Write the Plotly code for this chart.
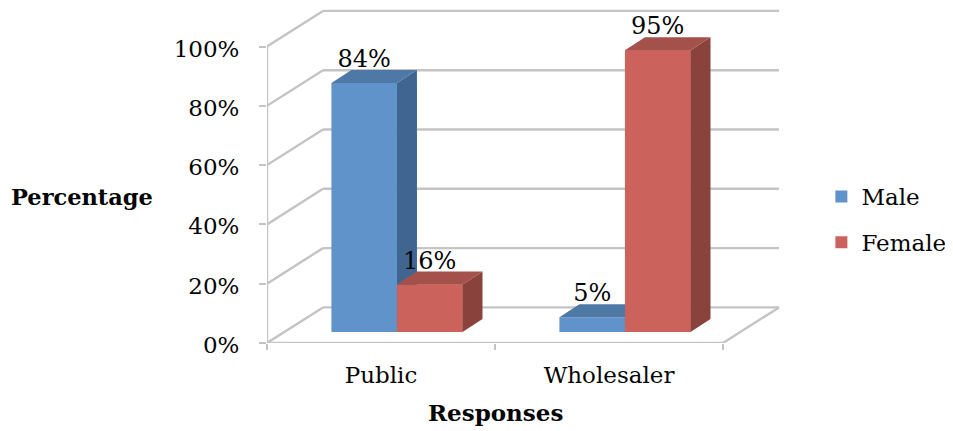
import plotly.graph_objects as go

categories = ["Public", "Wholesaler"]
series_names = ["Male", "Female"]
male = [84, 5]
female = [16, 95]
y_ticks = [0, 20, 40, 60, 80, 100]
y_labels = ["0%", "20%", "40%", "60%", "80%", "100%"]

FONT = "DejaVu Serif"
TXT = "#050505"
GRID = "#C4C4C4"
C = {
    "Male": ("#5F93C9", "#4E78A6", "#3F6590"),
    "Female": ("#CB635C", "#A5514B", "#8A423D"),
}

cx = [0.57, 1.57]
w = 0.2875
base = 3.7
bdx, bdy = 0.0877, 4.4
wdx, wdy = 0.2456, 12.0
label_drop = 1.0

# The page has an 8 px body margin: the figure is laid out inside it.
PLOT_H = 335
PLOT_W = 523

fig = go.Figure()

shapes = []
def ln(x0, y0, x1, y1):
    shapes.append(dict(type="line", xref="x", yref="y", x0=x0, y0=y0, x1=x1, y1=y1,
                       layer="below", line=dict(color=GRID, width=2.4)))
for v in y_ticks:
    ln(0, v, wdx, v + wdy)
    ln(wdx, v + wdy, 2 + wdx, v + wdy)
ln(0, 0, 0, 100)
ln(0, 0, 2, 0)
ln(2, 0, 2 + wdx, wdy)


def poly(xs, ys, color):
    fig.add_trace(go.Scatter(x=xs, y=ys, mode="lines", fill="toself", fillcolor=color,
                             line=dict(width=0), showlegend=False, hoverinfo="skip"))


fig.add_trace(go.Bar(name="Male", legendgroup="m", x=[c - w / 2 for c in cx], y=male, base=base, width=w,
                     marker=dict(color=C["Male"][0], line=dict(width=0))))
fig.add_trace(go.Bar(name="Female", legendgroup="f", x=[c + w / 2 for c in cx], y=female, base=base, width=w,
                     marker=dict(color=C["Female"][0], line=dict(width=0))))


def faces(xl, v, name):
    front, top, side = C[name]
    xr = xl + w
    t = base + v
    poly([xr, xr + bdx, xr + bdx, xr, xr], [base, base + bdy, t + bdy, t, base], side)
    poly([xl, xr, xr + bdx, xl + bdx, xl], [t, t, t + bdy, t + bdy, t], top)


for c, v in zip(cx, male):
    faces(c - w, v, "Male")
for c, v in zip(cx, female):
    xl = c
    t = base + v
    poly([xl, xl + w, xl + w, xl, xl], [base, base, t, t, base], C["Female"][0])
    faces(xl, v, "Female")

lx = [c - w / 2 for c in cx] + [c + w / 2 for c in cx]
vals = male + female
fig.add_trace(go.Scatter(x=lx, y=[base + v + bdy - label_drop for v in vals], mode="text",
                         text=[f"{v}%" for v in vals], textposition="top center",
                         textfont=dict(family=FONT, size=24, color=TXT), cliponaxis=False,
                         showlegend=False, hoverinfo="skip"))

fig.update_layout(
    width=945, height=423, autosize=False,
    margin=dict(l=259, r=163, t=0, b=88),
    paper_bgcolor="white", plot_bgcolor="white",
    shapes=shapes, barmode="overlay",
    font=dict(family=FONT, size=23, color=TXT),
    legend=dict(x=1.06, xanchor="left", y=(343 - 175) / PLOT_H, yanchor="top",
                traceorder="grouped", tracegroupgap=13, itemwidth=30,
                font=dict(family=FONT, size=23, color=TXT), bgcolor="rgba(0,0,0,0)"),
    xaxis=dict(range=[0, PLOT_W / 228], tickmode="array", tickvals=[0.5, 1.5], ticktext=categories,
               showgrid=False, zeroline=False, showline=False, ticks="", ticklabelstandoff=16,
               minor=dict(tickmode="array", tickvals=[0, 1, 2], ticks="outside", ticklen=6,
                          tickwidth=2, tickcolor=GRID, showgrid=False)),
    yaxis=dict(range=[0, PLOT_H / 2.965], tickmode="array", tickvals=y_ticks, ticktext=y_labels,
               showgrid=False, zeroline=False, showline=False, ticks="outside", ticklen=7,
               tickwidth=2, tickcolor=GRID, ticklabelstandoff=15, ticklabelshift=2),
    annotations=[
        dict(text="<b>Percentage</b>", xref="paper", yref="paper", x=(82 - 267) / PLOT_W,
             y=(343 - 197) / PLOT_H, xanchor="center", yanchor="middle", showarrow=False,
             font=dict(family=FONT, size=22.5, color=TXT)),
        dict(text="<b>Responses</b>", xref="x", yref="paper", x=1, y=(343 - 412) / PLOT_H,
             xanchor="center", yanchor="middle", showarrow=False,
             font=dict(family=FONT, size=23, color=TXT)),
    ],
)
fig.write_html("out.html")
